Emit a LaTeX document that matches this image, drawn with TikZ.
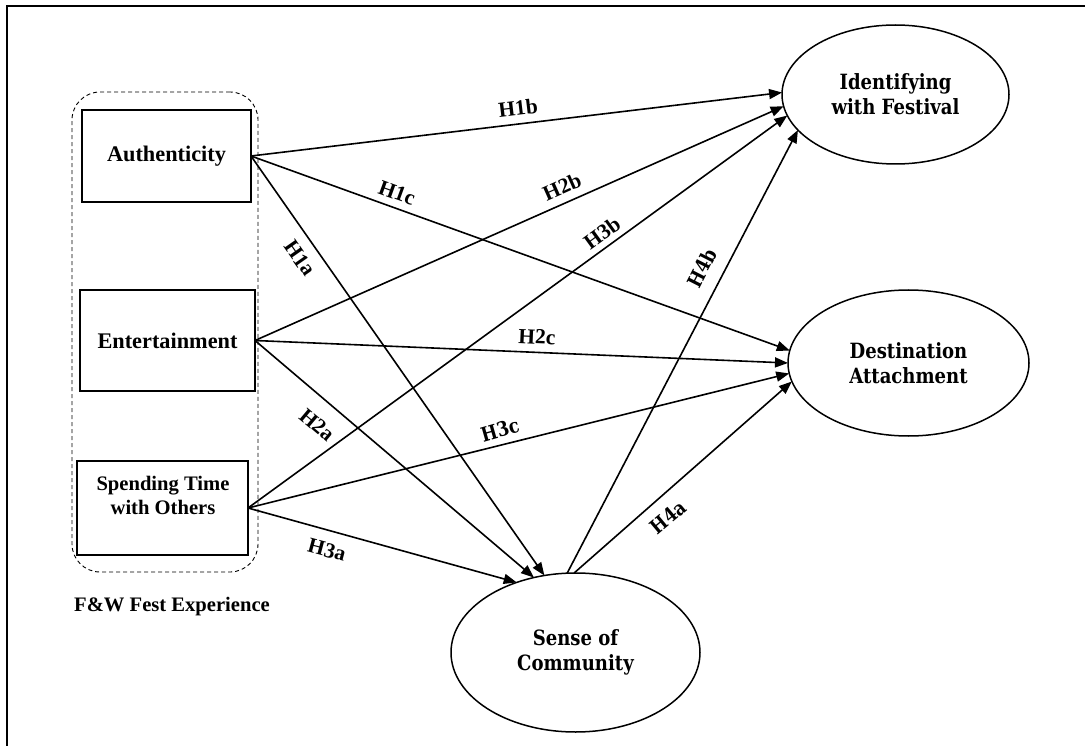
\documentclass[tikz,border=0pt]{standalone}
\usepackage{fontspec}
\setmainfont{Liberation Serif}
\newfontfamily\camb[FakeStretch=0.86]{DejaVu Serif}
\usetikzlibrary{arrows.meta,shapes.geometric}
\begin{document}
\begin{tikzpicture}[x=1pt,y=-1pt,
  box/.style={draw, line width=1.5pt, inner sep=0pt, outer sep=0pt, font=\fontsize{22.3}{24}\selectfont\bfseries, align=center},
  ell/.style={draw, ellipse, line width=1.5pt, inner sep=0pt, outer sep=0pt, font=\camb\fontsize{21}{25}\selectfont\bfseries, align=center},
  arr/.style={line width=1.6pt, -{Triangle[length=13pt,width=10pt]}},
  hyp/.style={font=\fontsize{21.5}{24}\selectfont\bfseries, inner sep=0pt},
  hypc/.style={font=\camb\fontsize{20}{24}\selectfont\bfseries, inner sep=0pt},
  grp/.style={draw, dash pattern=on 4pt off 3pt, line width=0.9pt, rounded corners=28pt, inner sep=0pt}
]
\useasboundingbox (0,0) rectangle (1085,746);
\fill[white] (0,0) rectangle (1085,746);
\coordinate (fa) at (7,746);
\coordinate (fb) at (7,6);
\coordinate (fc) at (1085,6);
\draw[line width=1.6pt] (fa) -- (fb) -- (fc);

\node[grp, minimum width=186pt, minimum height=480pt] (grp) at (165,332) {};

\node[box, minimum width=169pt, minimum height=92pt] (au) at (166.5,156) {Authenticity};
\node[box, minimum width=175pt, minimum height=101pt] (en) at (167.5,340.5) {Entertainment};
\node[box, minimum width=171pt, minimum height=94pt] (sp) at (162.5,508) {};
\node[font=\fontsize{20.6}{24}\selectfont\bfseries, align=center, inner sep=0pt] (spt) at (163,495) {Spending Time\\with Others};
\node[font=\fontsize{20.6}{24}\selectfont\bfseries, inner sep=0pt] (fw) at (172,607) {F\&W Fest Experience};

\node[ell, minimum width=227pt, minimum height=139pt] (id) at (895.5,94.5) {Identifying\\with Festival};
\node[ell, minimum width=241pt, minimum height=146pt] (da) at (908.5,363) {Destination\\Attachment};
\node[ell, minimum width=249pt, minimum height=159pt] (sc) at (575.5,652.5) {Sense of\\Community};

\draw[arr] (au.east) -- (id.179.3);
\draw[arr] (au.east) -- (da.174.8);
\draw[arr] (au.east) -- (sc.112.6);
\draw[arr] (en.east) -- (id.186.3);
\draw[arr] (en.east) -- (da.180);
\draw[arr] (en.east) -- (sc.119.3);
\draw[arr] (sp.east) -- (id.191.8);
\draw[arr] (sp.east) -- (da.185.2);
\draw[arr] (sp.east) -- (sc.130.1);
\draw[arr] (sc.96.1) -- (id.200.7);
\draw[arr] (sc.91.8) -- (da.189.8);

\node[hyp, rotate=6.8] (l1b) at (518,108) {H1b};
\node[hyp, rotate=-20] (l1c) at (397,193) {H1c};
\node[hyp, rotate=-55] (l1a) at (300,258) {H1a};
\node[hyp, rotate=24] (l2b) at (562,187) {H2b};
\node[hyp, rotate=-2.5] (l2c) at (537,337) {H2c};
\node[hyp, rotate=-40] (l2a) at (317,425) {H2a};
\node[hyp, rotate=36] (l3b) at (602,233) {H3b};
\node[hypc, rotate=16] (l3c) at (500,430) {H3c};
\node[hyp, rotate=-15] (l3a) at (327,550) {H3a};
\node[hypc, rotate=63] (l4b) at (702,268) {H4b};
\node[hypc, rotate=40] (l4a) at (668,517) {H4a};
\end{tikzpicture}
\end{document}
